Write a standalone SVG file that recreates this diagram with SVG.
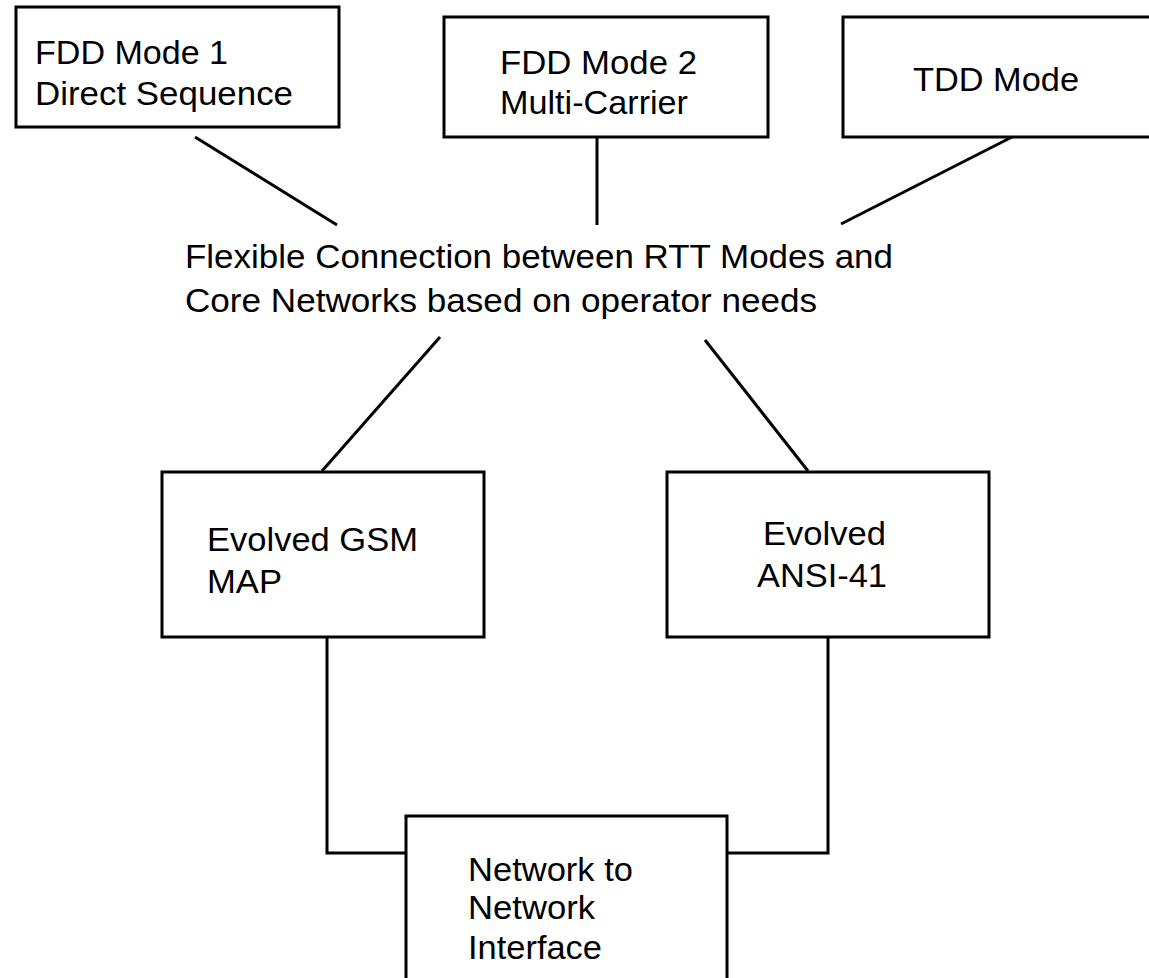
<svg xmlns="http://www.w3.org/2000/svg" width="1149" height="978" viewBox="0 0 1149 978">
  <style>
    .box { fill: #ffffff; stroke: #000000; stroke-width: 3; }
    .wire { fill: none; stroke: #000000; stroke-width: 3; }
    text { font-family: "Liberation Sans", Arial, sans-serif; font-size: 33px; fill: #000000; }
  </style>
  <rect width="1149" height="978" fill="#ffffff"/>

  <!-- connectors -->
  <g id="connectors">
    <line class="wire" x1="195" y1="137" x2="337" y2="225"/>
    <line class="wire" x1="597" y1="137" x2="597" y2="225"/>
    <line class="wire" x1="1012" y1="137" x2="841" y2="224"/>
    <line class="wire" x1="440" y1="337" x2="322" y2="471"/>
    <line class="wire" x1="705" y1="340" x2="808" y2="471"/>
    <polyline class="wire" points="327,637 327,853 406,853"/>
    <polyline class="wire" points="828,637 828,853 727,853"/>
  </g>

  <g id="fdd-mode-1">
    <rect class="box" x="16" y="7" width="323" height="120"/>
    <text x="35" y="64" textLength="193" lengthAdjust="spacingAndGlyphs">FDD Mode 1</text>
    <text x="35" y="105" textLength="258" lengthAdjust="spacingAndGlyphs">Direct Sequence</text>
  </g>

  <g id="fdd-mode-2">
    <rect class="box" x="444" y="17" width="324" height="120"/>
    <text x="500" y="74" textLength="197" lengthAdjust="spacingAndGlyphs">FDD Mode 2</text>
    <text x="500" y="114" textLength="188" lengthAdjust="spacingAndGlyphs">Multi-Carrier</text>
  </g>

  <g id="tdd-mode">
    <rect class="box" x="843" y="17" width="322" height="120"/>
    <text x="913" y="91" textLength="166" lengthAdjust="spacingAndGlyphs">TDD Mode</text>
  </g>

  <g id="flexible-connection">
    <text x="185" y="268" textLength="708" lengthAdjust="spacingAndGlyphs">Flexible Connection between RTT Modes and</text>
    <text x="185" y="312" textLength="632" lengthAdjust="spacingAndGlyphs">Core Networks based on operator needs</text>
  </g>

  <g id="evolved-gsm-map">
    <rect class="box" x="162" y="472" width="322" height="165"/>
    <text x="207" y="551" textLength="211" lengthAdjust="spacingAndGlyphs">Evolved GSM</text>
    <text x="207" y="593" textLength="75" lengthAdjust="spacingAndGlyphs">MAP</text>
  </g>

  <g id="evolved-ansi-41">
    <rect class="box" x="667" y="472" width="322" height="165"/>
    <text x="763" y="545" textLength="123" lengthAdjust="spacingAndGlyphs">Evolved</text>
    <text x="757" y="587" textLength="130" lengthAdjust="spacingAndGlyphs">ANSI-41</text>
  </g>

  <g id="network-interface">
    <rect class="box" x="406" y="816" width="321" height="170"/>
    <text x="468" y="881" textLength="165" lengthAdjust="spacingAndGlyphs">Network to</text>
    <text x="468" y="919" textLength="127" lengthAdjust="spacingAndGlyphs">Network</text>
    <text x="468" y="959" textLength="134" lengthAdjust="spacingAndGlyphs">Interface</text>
  </g>
</svg>
